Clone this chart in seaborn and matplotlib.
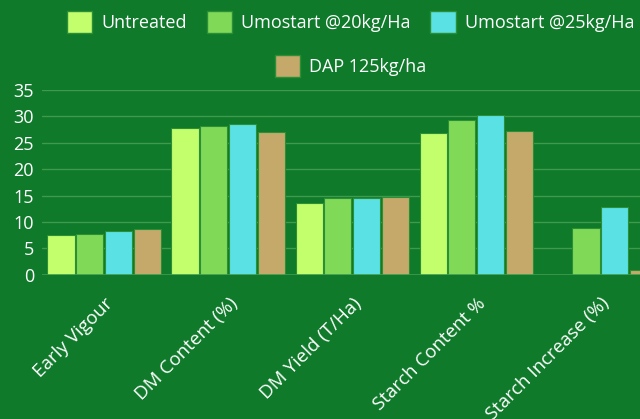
import pandas as pd
import numpy as np
import seaborn as sns
import matplotlib.pyplot as plt
from matplotlib.patches import Patch

#--Data
categories = ['Early Vigour', 'DM Content (%)', 'DM Yield (T/Ha)', 'Starch Content %', 'Starch Increase (%)']
treatments = ['Untreated', 'Umostart @20kg/Ha', 'Umostart @25kg/Ha', 'DAP 125kg/ha']
untreated = [7.6, 27.9, 13.7, 26.8, 0.0]
umo20 = [7.8, 28.2, 14.5, 29.3, 8.8]
umo25 = [8.4, 28.5, 14.5, 30.3, 12.8]
dap125 = [8.7, 27.1, 14.7, 27.2, 0.9]
colors = ['#c3fe6c', '#80da58', '#5ae1e4', '#c4a96a']
bg = '#0e7a2a'

df = pd.DataFrame({
    'category': categories * 4,
    'treatment': np.repeat(treatments, len(categories)),
    'value': untreated + umo20 + umo25 + dap125,
})

#--Plot
sns.set_style('white')
plt.rcParams['font.family'] = ['Open Sans', 'DejaVu Sans']
fig = plt.figure(figsize=(6.4, 4.19), dpi=100, facecolor=bg)
ax = fig.add_axes([0.066, 0.344, 0.969, 0.441], facecolor=bg)

sns.barplot(data=df, x='category', y='value', hue='treatment', hue_order=treatments,
            palette=colors, width=0.93, gap=0.06, saturation=1, edgecolor='#2a8f35', linewidth=0.8,
            legend=False, ax=ax)

ax.set_ylim(0, 35)
ax.set_yticks(range(0, 36, 5))
ax.yaxis.grid(True, color='#3f9a4c', linewidth=1)
ax.set_axisbelow(True)
for s in ax.spines.values():
    s.set_visible(False)
ax.axhline(0, color='#3f9a4c', linewidth=1.2)
ax.set_xlabel('')
ax.set_ylabel('')
ax.tick_params(axis='both', length=0, colors='white', labelsize=13)
ax.tick_params(axis='y', pad=6)
ax.tick_params(axis='x', pad=14, labelsize=13.5)
plt.setp(ax.get_xticklabels(), rotation=45, ha='right', va='top', rotation_mode='anchor')

#--Legend (two centred rows)
handles = [Patch(facecolor=c, edgecolor='#2a8f35') for c in colors]
leg1 = fig.legend(handles[:3], treatments[:3], loc='center', bbox_to_anchor=(0.548, 0.948), ncol=3,
                  frameon=False, fontsize=13, labelcolor='white', handlelength=1.4, handleheight=1.5,
                  columnspacing=1.1, handletextpad=0.5)
leg2 = fig.legend(handles[3:], treatments[3:], loc='center', bbox_to_anchor=(0.548, 0.843), ncol=1,
                  frameon=False, fontsize=13, labelcolor='white', handlelength=1.4, handleheight=1.5,
                  handletextpad=0.5)

plt.savefig('out.png', dpi=100, facecolor=bg)
plt.close()
